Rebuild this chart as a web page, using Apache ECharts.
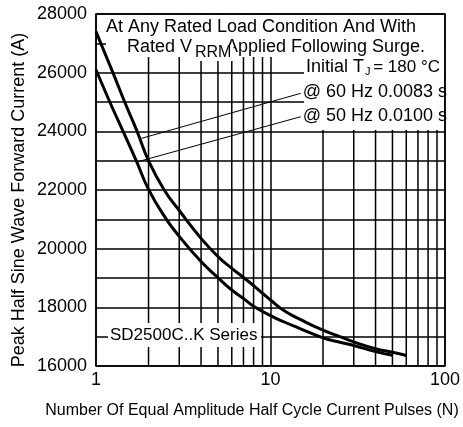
<!DOCTYPE html>
<html>
<head>
<meta charset="utf-8">
<script src="https://cdn.jsdelivr.net/npm/echarts@6/dist/echarts.min.js"></script>
<style>html,body{margin:0;padding:0;background:#fff}#c{width:463px;height:427px}</style>
</head>
<body>
<div id="c"></div>
<script>
// ---- data ----
const pulsesUpper  = [1, 1.25, 1.46, 1.72, 2.0, 2.46, 3, 4, 5, 6, 7, 8, 9, 10, 12, 15, 20, 25, 30, 40, 50, 60];
const currentUpper = [27400, 26000, 25000, 24000, 23000, 22000, 21300, 20350, 19730, 19330, 19020, 18740, 18480, 18250, 17880, 17570, 17220, 17000, 16820, 16590, 16470, 16360];
const pulsesLower  = [1, 1.2, 1.43, 1.7, 2, 2.5, 3, 4, 5, 6, 7, 8, 10, 12, 15, 20, 25, 30, 40, 50];
const currentLower = [26100, 25000, 24000, 23000, 22020, 21050, 20420, 19560, 19010, 18590, 18300, 18040, 17720, 17500, 17260, 16960, 16810, 16700, 16490, 16370];
const minorPulses  = [2, 3, 4, 5, 6, 7, 8, 9, 20, 30, 40, 50, 60, 70, 80, 90];
const leader60 = [[14.9, 25296], [1.82, 23760]];
const leader50 = [[14.9, 24498], [1.75, 22970]];
const yMin = 16000, yMax = 28000, yStep = 1000, yLabelStep = 2000;
const xMin = 1, xMax = 100;

const FONT = "'Liberation Sans', Arial, sans-serif";
const zip = (a, b) => a.map((v, i) => [v, b[i]]);

const chart = echarts.init(document.getElementById('c'), null, {renderer: 'canvas'});

function txt(text, x, y, size, align, extraStyle, extraEl) {
  return Object.assign({
    type: 'text', z: 6, silent: true,
    style: Object.assign({text: text, x: x, y: y, font: size + 'px ' + FONT, fill: '#000',
            textAlign: align || 'left', textVerticalAlign: 'middle'}, extraStyle || {})
  }, extraEl || {});
}
function rect(x, y, w, h) {
  return {type: 'rect', z: 5, silent: true, shape: {x: x, y: y, width: w, height: h}, style: {fill: '#fff'}};
}

const option = {
  backgroundColor: '#fff',
  animation: false,
  grid: {left: 96, top: 14, width: 353, height: 352, show: true, borderColor: '#000', borderWidth: 1.5, backgroundColor: 'transparent'},
  xAxis: {
    type: 'log', logBase: 10, min: xMin, max: xMax,
    axisLine: {show: false}, axisTick: {show: false},
    axisLabel: {fontSize: 18, color: '#000', fontFamily: FONT, margin: 5},
    splitLine: {show: true, lineStyle: {color: '#000', width: 1.5}}
  },
  yAxis: {
    type: 'value', min: yMin, max: yMax, interval: yStep,
    axisLine: {show: false}, axisTick: {show: false},
    axisLabel: {fontSize: 18, color: '#000', fontFamily: FONT, margin: 9,
      formatter: v => (v % yLabelStep === 0 ? String(v) : '')},
    splitLine: {show: true, lineStyle: {color: '#000', width: 1.5}}
  },
  graphic: [
    rect(106, 15, 338, 42),
    rect(304, 15, 140, 115),
    rect(108, 323, 153, 24),
    txt('At Any Rated Load Condition And With', 261, 27, 18, 'center'),
    txt('Rated V', 127, 47, 18, 'left'),
    txt('Applied Following Surge.', 425, 47, 18, 'right'),
    txt('RRM', 195, 53, 16, 'left', {backgroundColor: '#fff', padding: [0, 2, 0, 0]}, {z: 7}),
    txt('Initial T', 306, 67, 18, 'left'),
    txt('J', 365, 72, 11, 'left'),
    txt('= 180 \u00B0C', 440, 67, 17, 'right'),
    txt('@ 60 Hz 0.0083 s', 447, 92, 18, 'right'),
    txt('@ 50 Hz 0.0100 s', 447, 116, 18, 'right'),
    txt('SD2500C..K Series', 110, 335, 17, 'left'),
    txt('Peak Half Sine Wave Forward Current (A)', 0, 0, 18, 'center', null, {x: 19, y: 200, rotation: Math.PI / 2}),
    txt('Number Of Equal Amplitude Half Cycle Current Pulses (N)', 252, 411, 16, 'center')
  ],
  series: [
    {
      type: 'custom', z: 1, silent: true,
      data: minorPulses.map(v => [v, yMin]),
      renderItem: function (params, api) {
        const x = api.value(0);
        const p1 = api.coord([x, yMin]);
        const p2 = api.coord([x, yMax]);
        return {type: 'line', shape: {x1: p1[0], y1: p1[1], x2: p2[0], y2: p2[1]},
                style: {stroke: '#000', lineWidth: 1.5}};
      }
    },
    {type: 'line', z: 10, data: zip(pulsesUpper, currentUpper), showSymbol: false, symbol: 'none', smooth: 0.5,
     lineStyle: {color: '#000', width: 3}},
    {type: 'line', z: 10, data: zip(pulsesLower, currentLower), showSymbol: false, symbol: 'none', smooth: 0.5,
     lineStyle: {color: '#000', width: 3}},
    {type: 'line', z: 10, data: leader60, showSymbol: false, symbol: 'none', lineStyle: {color: '#000', width: 1}},
    {type: 'line', z: 10, data: leader50, showSymbol: false, symbol: 'none', lineStyle: {color: '#000', width: 1}}
  ]
};
chart.setOption(option);
</script>
</body>
</html>
